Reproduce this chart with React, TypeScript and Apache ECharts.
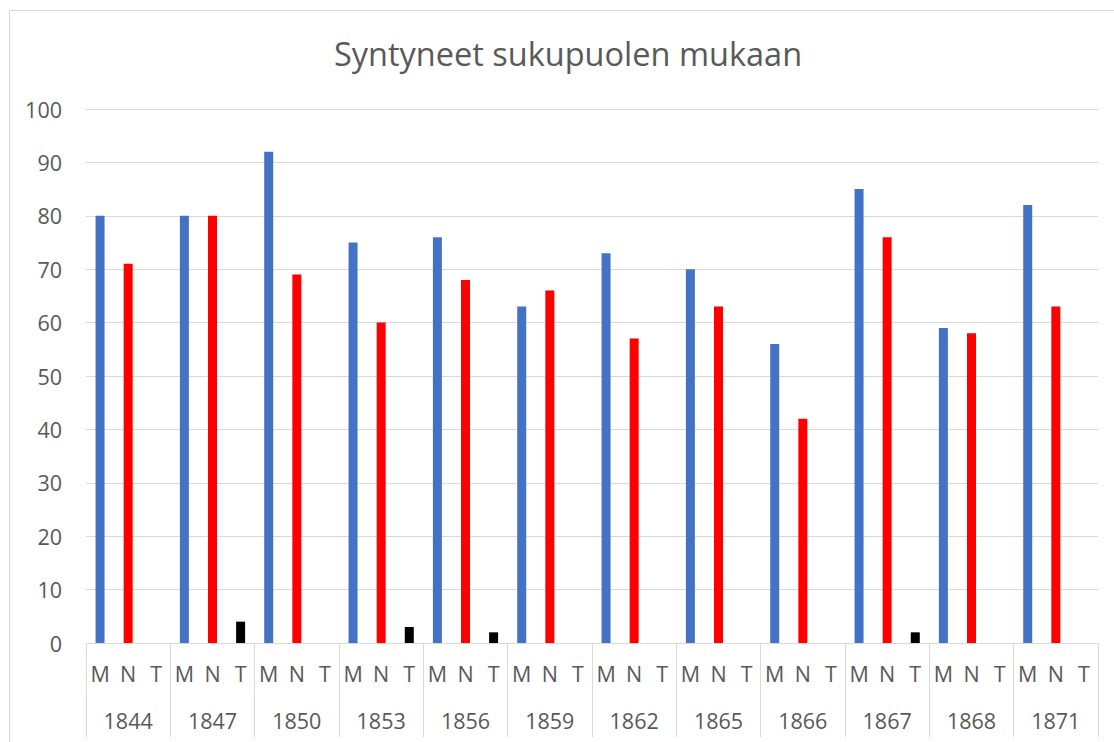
import React, { useEffect, useRef } from "react";
import * as echarts from "echarts";

const years = ["1844", "1847", "1850", "1853", "1856", "1859", "1862", "1865", "1866", "1867", "1868", "1871"];
const subLabels = ["M", "N", "T"];
const mValues = [80, 80, 92, 75, 76, 63, 73, 70, 56, 85, 59, 82];
const nValues = [71, 80, 69, 60, 68, 66, 57, 63, 42, 76, 58, 63];
const tValues = [0, 4, 0, 3, 2, 0, 0, 0, 0, 2, 0, 0];
const yTicks = { min: 0, max: 100, interval: 10 };
const title = "Syntyneet sukupuolen mukaan";

const COLORS = ["#4472C4", "#FF0000", "#000000"];
const TEXT = "#595959";
const GRIDC = "#D9D9D9";
const FONT = "Open Sans";

export default function App() {
  const ref = useRef<HTMLDivElement>(null);
  useEffect(() => {
    if (!ref.current) return;
    const chart = echarts.init(ref.current, undefined, { renderer: "svg" });
    const cats: string[] = [];
    const data: any[] = [];
    years.forEach((_, i) => {
      const vals = [mValues[i], nValues[i], tValues[i]];
      subLabels.forEach((s, j) => {
        cats.push(s);
        data.push({ value: vals[j], itemStyle: { color: COLORS[j] } });
      });
    });
    chart.setOption({
      animation: false,
      backgroundColor: "#ffffff",
      textStyle: { fontFamily: FONT },
      graphic: [
        {
          type: "rect",
          shape: { x: 9.5, y: 10.5, width: 1200, height: 900 },
          style: { fill: "none", stroke: GRIDC, lineWidth: 1 },
          silent: true,
        },
        {
          type: "text",
          x: 568,
          y: 53,
          style: {
            text: title,
            fontSize: 32.5,
            fontFamily: FONT,
            fill: TEXT,
            align: "center",
            verticalAlign: "middle",
          },
        },
      ],
      grid: { left: 86, right: 16, top: 109, bottom: 99, containLabel: false, outerBoundsMode: "none" },
      xAxis: [
        {
          type: "category",
          data: cats,
          position: "bottom",
          axisLine: { show: false },
          axisTick: { show: false },
          axisLabel: { interval: 0, margin: 19, fontSize: 21.5, color: TEXT, fontFamily: FONT },
        },
        {
          type: "category",
          data: years,
          position: "bottom",
          axisLine: { show: true, lineStyle: { color: GRIDC, width: 1 } },
          axisTick: { show: true, length: 94, lineStyle: { color: GRIDC, width: 1 } },
          axisLabel: { interval: 0, margin: 66, fontSize: 21.5, color: TEXT, fontFamily: FONT },
        },
      ],
      yAxis: {
        type: "value",
        min: yTicks.min,
        max: yTicks.max,
        interval: yTicks.interval,
        axisLine: { show: false },
        axisTick: { show: false },
        splitLine: { lineStyle: { color: GRIDC, width: 1 } },
        axisLabel: { margin: 24, fontSize: 21.5, color: TEXT, fontFamily: FONT },
      },
      series: [
        {
          type: "bar",
          xAxisIndex: 0,
          data,
          barWidth: 9,
        },
      ],
    });
    return () => chart.dispose();
  }, []);
  return <div ref={ref} style={{ position: "absolute", left: 0, top: 0, width: 1114, height: 742 }} />;
}
